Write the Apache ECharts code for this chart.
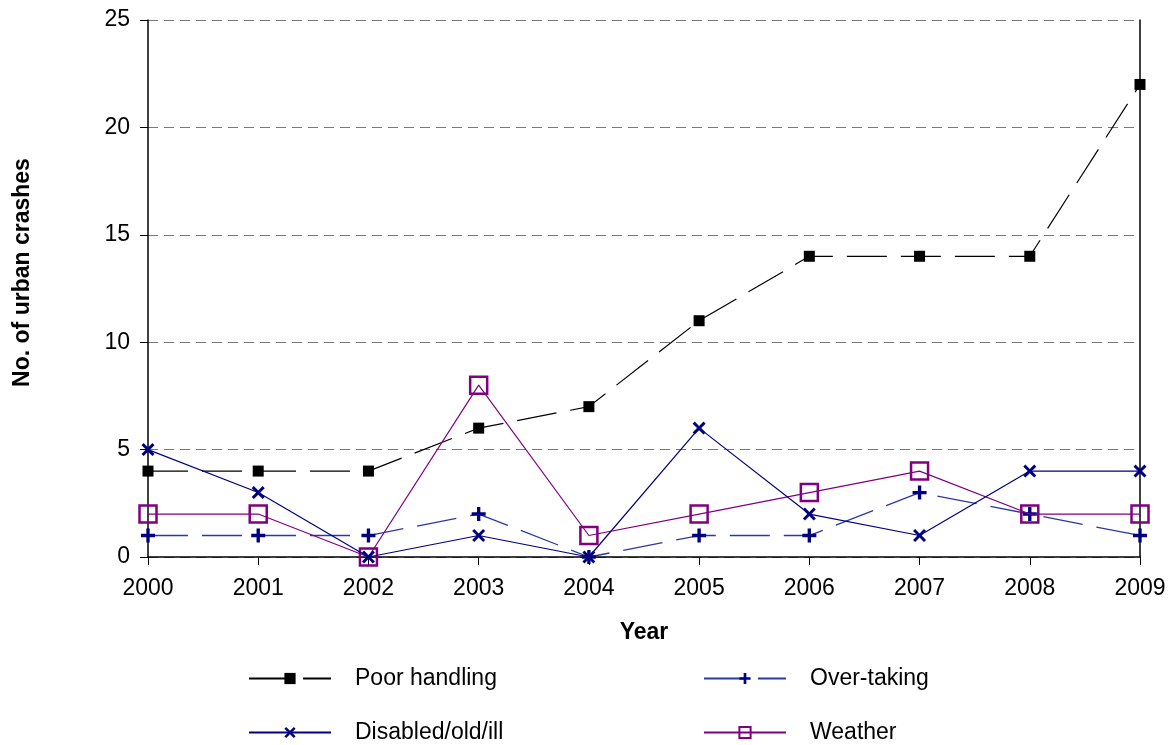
<!DOCTYPE html>
<html>
<head>
<meta charset="utf-8">
<script src="https://cdn.jsdelivr.net/npm/echarts@6/dist/echarts.min.js"></script>
<style>html,body{margin:0;padding:0;background:#fff;}#c{width:1176px;height:745px;}</style>
</head>
<body>
<div id="c"></div>
<script>
const years = ['2000','2001','2002','2003','2004','2005','2006','2007','2008','2009'];
const poorHandling = [4,4,4,6,7,11,14,14,14,22];
const overTaking = [1,1,1,2,0,1,1,3,2,1];
const disabled = [5,3,0,1,0,6,2,1,4,4];
const weather = [2,2,0,8,1,2,3,4,2,2];

const PLUS = 'path://M3.8,0H6.2V3.8H10V6.2H6.2V10H3.8V6.2H0V3.8H3.8Z';
const CROSS = 'path://M0,1.6L1.6,0L5,3.4L8.4,0L10,1.6L6.6,5L10,8.4L8.4,10L5,6.6L1.6,10L0,8.4L3.4,5Z';
const FONT = 'Liberation Sans, Arial, sans-serif';

const chart = echarts.init(document.getElementById('c'));
function leg(name, left, top) {
  return {
    data: [name], left: left, top: top, orient: 'horizontal', padding: 0,
    itemWidth: 82, itemHeight: 14,
    textStyle: {fontFamily: FONT, fontSize: 23, color: '#000', padding: [0,0,0,19]},
    selectedMode: false
  };
}
chart.setOption({
  animation: false,
  backgroundColor: '#fff',
  grid: {left: 148, right: 36, top: 20, bottom: 188},
  legend: [
    leg('Poor handling', 248, 667),
    leg('Over-taking', 703, 667),
    leg('Disabled/old/ill', 248, 721),
    leg('Weather', 703, 721)
  ],
  xAxis: {
    type: 'category', data: years, boundaryGap: false,
    name: 'Year', nameLocation: 'middle', nameGap: 64,
    nameTextStyle: {fontFamily: FONT, fontSize: 23, fontWeight: 'bold', color: '#000'},
    axisLine: {lineStyle: {color: '#000', width: 1.5}},
    axisTick: {show: true, length: 8, inside: false, lineStyle: {color: '#000'}},
    axisLabel: {fontFamily: FONT, fontSize: 23, color: '#000', margin: 20},
    splitLine: {show: false}
  },
  yAxis: [{
    type: 'value', min: 0, max: 25, interval: 5,
    name: 'No. of urban crashes', nameLocation: 'middle', nameGap: 114,
    nameTextStyle: {fontFamily: FONT, fontSize: 23, fontWeight: 'bold', color: '#000', padding: [0,0,0,32]},
    axisLine: {show: true, lineStyle: {color: '#000', width: 1.5}},
    axisTick: {show: true, length: 8, lineStyle: {color: '#000'}},
    axisLabel: {fontFamily: FONT, fontSize: 23, color: '#000', margin: 18},
    splitLine: {show: true, lineStyle: {color: '#777', type: [10, 6], width: 1}}
  }, {
    type: 'value', min: 0, max: 25, interval: 5, position: 'right',
    axisLine: {show: true, lineStyle: {color: '#000', width: 1.5}},
    axisTick: {show: false}, axisLabel: {show: false}, splitLine: {show: false}
  }],
  series: [
    {
      name: 'Poor handling', type: 'line', data: poorHandling, z: 3,
      symbol: 'rect', symbolSize: 11,
      itemStyle: {color: '#000'},
      lineStyle: {color: '#000', width: 1.2, type: [40, 14]}
    },
    {
      name: 'Over-taking', type: 'line', data: overTaking, z: 4,
      symbol: PLUS, symbolSize: 14,
      itemStyle: {color: '#000080'},
      lineStyle: {color: '#2a3aa0', width: 1.3, type: [40, 14]}
    },
    {
      name: 'Disabled/old/ill', type: 'line', data: disabled, z: 6,
      symbol: CROSS, symbolSize: 13,
      itemStyle: {color: '#000080'},
      lineStyle: {color: '#000080', width: 1.2}
    },
    {
      name: 'Weather', type: 'line', data: weather, z: 5,
      symbol: 'rect', symbolSize: 17,
      itemStyle: {color: 'rgba(0,0,0,0)', borderColor: '#800080', borderWidth: 2.5},
      lineStyle: {color: '#800080', width: 1.2}
    }
  ]
});
</script>
</body>
</html>
